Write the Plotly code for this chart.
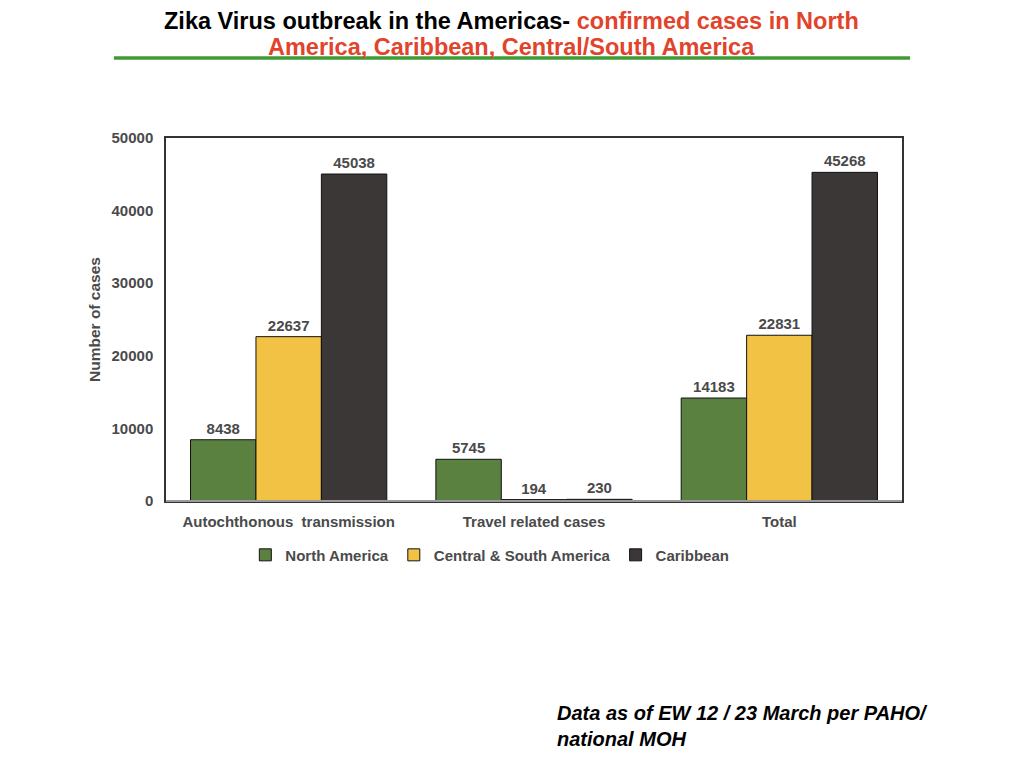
import plotly.graph_objects as go

# categories and series
categories = ["Autochthonous  transmission", "Travel related cases", "Total"]
north_america = [8438, 5745, 14183]
central_south_america = [22637, 194, 22831]
caribbean = [45038, 230, 45268]

series_names = ["North America", "Central & South America", "Caribbean"]
series_colors = ["#5b8140", "#f2c244", "#3b3736"]

TXT = "#4a4a4a"
FONT = "Liberation Sans, Arial, sans-serif"
RED = "#e2432b"

fig = go.Figure()

for name, vals, col in zip(series_names,
                           [north_america, central_south_america, caribbean],
                           series_colors):
    fig.add_trace(go.Bar(
        x=categories, y=vals, name=name,
        marker=dict(color=col, line=dict(color="#111111", width=1)),
        text=[str(v) for v in vals], textposition="outside",
        textfont=dict(family=FONT, size=15, color=TXT, weight="bold"),
        cliponaxis=False,
    ))

fig.update_layout(
    width=1024, height=768,
    paper_bgcolor="white", plot_bgcolor="white",
    margin=dict(l=158, r=130, t=130, b=275),
    barmode="group", bargap=0.2, bargroupgap=0,
    font=dict(family=FONT, color=TXT),
    legend=dict(
        orientation="h", x=0.44, xanchor="center", y=-0.149, yanchor="middle",
        font=dict(family=FONT, size=15, color=TXT, weight="bold"),
        itemwidth=30, traceorder="normal",
    ),
    showlegend=True,
)

fig.update_yaxes(
    range=[0, 50000], tickvals=[0, 10000, 20000, 30000, 40000, 50000],
    tickformat="d",
    showgrid=False, zeroline=False,
    showline=True, linecolor="#333333", linewidth=1.5, mirror=True,
    ticks="", ticklabelstandoff=8,
    tickfont=dict(family=FONT, size=15, color=TXT, weight="bold"),
    title=dict(text="Number of cases", standoff=7,
               font=dict(family=FONT, size=15.5, color=TXT, weight="bold")),
)
fig.update_xaxes(
    showgrid=False, showline=True, linecolor="#333333", linewidth=1.5, mirror=True,
    ticks="", ticklabelstandoff=6,
    tickfont=dict(family=FONT, size=15, color=TXT, weight="bold"),
)

# bottom axis line is lighter grey
fig.add_shape(type="line", xref="paper", yref="paper", x0=0, x1=1, y0=0, y1=0,
              line=dict(color="#9a9a9a", width=2), layer="above")

# title, two lines
title_font = dict(family=FONT, size=23.5, color="black", weight="bold")
fig.add_annotation(
    text="Zika Virus outbreak in the Americas- "
         f"<span style='color:{RED}'>confirmed cases in North</span>",
    xref="paper", yref="paper", x=0.4701, y=1.3223,
    xanchor="center", yanchor="middle", showarrow=False, font=title_font,
    borderpad=0,
)
fig.add_annotation(
    text="America, Caribbean, Central/South America",
    xref="paper", yref="paper", x=0.4701, y=1.2507,
    xanchor="center", yanchor="middle", showarrow=False,
    font=dict(title_font, color=RED), borderpad=0,
)

# green rule under title
fig.add_shape(type="line", xref="paper", yref="paper",
              x0=-0.0707, x1=1.0109, y0=1.2204, y1=1.2204,
              line=dict(color="#3f9b34", width=3.5))

fig.add_annotation(
    text="<i>Data as of EW 12 / 23 March per PAHO/<br>national MOH</i>",
    xref="paper", yref="paper", x=0.5285, y=-0.548,
    xanchor="left", yanchor="top", align="left", showarrow=False,
    font=dict(family=FONT, size=20, color="black", weight="bold"),
)

fig.write_html("out.html")
